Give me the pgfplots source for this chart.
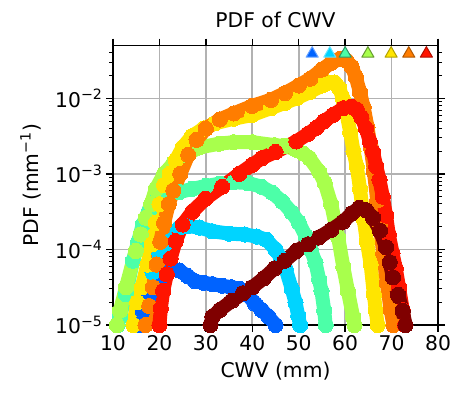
\documentclass[border=0pt]{standalone}
\usepackage{fontspec}
\setmainfont{DejaVu Sans}
\usepackage{pgfplots}
\pgfplotsset{compat=1.18}
\definecolor{c1}{rgb}{0,0.39,1}
\definecolor{c2}{rgb}{0,0.83,1}
\definecolor{c3}{rgb}{0.30,1,0.66}
\definecolor{c4}{rgb}{0.66,1,0.30}
\definecolor{c5}{rgb}{1,0.90,0}
\definecolor{c6}{rgb}{1,0.49,0}
\definecolor{c7}{rgb}{1,0.08,0}
\definecolor{c8}{rgb}{0.5,0,0}
\newcommand{\fs}{\fontsize{20.3}{24}\selectfont}
\begin{document}
\begin{tikzpicture}[font=\fs]
\begin{axis}[
  name=ax,
  scale only axis, width=325pt, height=279.5pt,
  xmin=10, xmax=80, ymode=log, ymin=1e-5, ymax=0.05,
  xtick={10,20,...,80},
  ytick={1e-5,1e-4,1e-3,1e-2},
  yticklabels={10\textsuperscript{−5},10\textsuperscript{−4},10\textsuperscript{−3},10\textsuperscript{−2}},
  minor ytick={2e-5,3e-5,4e-5,5e-5,6e-5,7e-5,8e-5,9e-5,2e-4,3e-4,4e-4,5e-4,6e-4,7e-4,8e-4,9e-4,2e-3,3e-3,4e-3,5e-3,6e-3,7e-3,8e-3,9e-3,2e-2,3e-2,4e-2},
  /pgf/number format/assume math mode=true,
  tick align=outside, major tick length=7pt, minor tick length=4pt,
  tick style={black, line width=1.3pt},
  minor tick style={line width=1pt},
  axis line style={line width=1.6pt},
  xmajorgrids, ymajorgrids,
  major grid style={color=black!30, line width=1.6pt},
  tick label style={font=\fs},
  title={PDF of CWV},
  title style={font=\fs, at={(axis description cs:0.5,1.03)}, anchor=south},
  xlabel={CWV (mm)},
  xlabel style={font=\fs, at={(axis description cs:0.5,-0.1216)}, anchor=north},
  ylabel={PDF (mm\textsuperscript{−1})},
  ylabel style={font=\fs, at={(axis description cs:-0.254,0.5)}, anchor=center},
  every axis plot/.append style={line width=14pt, line cap=round, line join=round, mark=*, mark size=7.6pt, mark options={line width=0pt}},
]
% blue
\addplot[c1] coordinates {
(15.5,1.0e-5)(16.4,1.55e-5)(17.5,2.24e-5)(18.5,2.82e-5)(20,3.98e-5)(21.3,5.01e-5)(22.5,5.50e-5)(24.3,5.25e-5)(26,4.47e-5)(27.7,3.80e-5)(29.5,3.63e-5)(31.4,3.47e-5)(33.5,3.31e-5)(35.5,3.16e-5)(37.2,3.02e-5)(39,2.51e-5)(40.6,1.91e-5)(42,1.58e-5)(43.5,1.29e-5)(45,1.0e-5)};
% cyan
\addplot[c2] coordinates {
(18.5,5.01e-5)(20,8.91e-5)(21,1.12e-4)(22.2,1.29e-4)(24.3,1.95e-4)(26,2.04e-4)(28.6,1.95e-4)(31.4,1.74e-4)(35,1.62e-4)(38.4,1.58e-4)(41,1.48e-4)(43,1.35e-4)(45,1.0e-4)(46.2,7.59e-5)(47.2,5.50e-5)(48.5,3.02e-5)(49.3,2.0e-5)(49.9,1.32e-5)(50.3,1.0e-5)};
% aquamarine
\addplot[c3] coordinates {
(11,1.0e-5)(11.5,1.29e-5)(12.8,2.57e-5)(14.3,7.08e-5)(15.4,1.26e-4)(16.4,2.14e-4)(17.8,3.31e-4)(19.2,4.37e-4)(21,5.01e-4)(24.3,5.75e-4)(27,6.31e-4)(30,6.92e-4)(33,7.41e-4)(36,7.76e-4)(39,7.59e-4)(42,6.76e-4)(44.3,5.62e-4)(46.5,4.27e-4)(48.5,3.09e-4)(50,2.29e-4)(51.5,1.51e-4)(52.6,1.0e-4)(53.6,6.76e-5)(54.4,3.98e-5)(54.9,2.82e-5)(55.5,1.55e-5)(55.8,1.0e-5)};
% green-yellow
\addplot[c4] coordinates {
(10.8,1.0e-5)(11.5,1.55e-5)(12.8,3.16e-5)(14.9,9.55e-5)(16,1.58e-4)(17.1,2.63e-4)(18.2,3.98e-4)(19.2,6.31e-4)(21,1.0e-3)(23,1.38e-3)(25.6,1.78e-3)(28.6,2.24e-3)(32.9,2.51e-3)(36,2.63e-3)(40,2.63e-3)(44.8,2.40e-3)(47,2.34e-3)(49.5,2.09e-3)(51,1.86e-3)(52.3,1.62e-3)(54.4,1.07e-3)(55.6,7.59e-4)(57,3.98e-4)(58.5,1.45e-4)(59.6,5.89e-5)(60.6,2.82e-5)(61.7,1.29e-5)(62,1.0e-5)};
% yellow
\addplot[c5] coordinates {
(14.4,1.0e-5)(15.2,2.0e-5)(16.2,3.16e-5)(17.4,6.31e-5)(18.4,1.17e-4)(19.2,2.24e-4)(20,3.98e-4)(21,7.08e-4)(22.2,1.0e-3)(23.5,1.51e-3)(25,2.24e-3)(27,3.16e-3)(29.5,3.98e-3)(32,4.68e-3)(36,5.37e-3)(40,6.03e-3)(44,7.41e-3)(47,8.71e-3)(49.5,1.0e-2)(52.3,1.20e-2)(55,1.48e-2)(56.5,1.62e-2)(57.7,1.62e-2)(58.7,1.38e-2)(59.5,1.0e-2)(60.3,6.31e-3)(61.1,3.55e-3)(61.8,2.0e-3)(62.5,1.26e-3)(63.2,6.31e-4)(64,2.51e-4)(64.7,1.26e-4)(65.5,6.31e-5)(66.2,2.51e-5)(66.6,1.55e-5)(67,1.0e-5)};
% orange
\addplot[c6] coordinates {
(17,1.0e-5)(17.8,1.78e-5)(18.6,3.16e-5)(19.4,6.31e-5)(20.2,1.26e-4)(21,2.24e-4)(22,3.98e-4)(23,6.03e-4)(24.5,1.0e-3)(26.2,1.78e-3)(28,2.82e-3)(30,3.98e-3)(33,5.25e-3)(36,6.31e-3)(40,7.94e-3)(44,9.55e-3)(47,1.17e-2)(50,1.48e-2)(52.5,1.82e-2)(55,2.40e-2)(57,2.95e-2)(58.8,3.31e-2)(60.3,3.16e-2)(61.4,2.63e-2)(62.3,1.91e-2)(63.2,1.20e-2)(64,7.59e-3)(64.8,4.17e-3)(65.5,2.24e-3)(66.2,1.07e-3)(66.9,4.47e-4)(67.5,2.0e-4)(68.2,8.91e-5)(69,3.55e-5)(69.8,1.58e-5)(70.4,1.0e-5)};
% red
\addplot[c7] coordinates {
(20,1.0e-5)(20.3,1.66e-5)(20.8,2.82e-5)(21.6,4.68e-5)(22.4,7.59e-5)(23.5,1.29e-4)(25,2.14e-4)(27.1,3.16e-4)(29.9,4.68e-4)(33.5,6.76e-4)(37.2,1.0e-3)(40,1.32e-3)(42.1,1.62e-3)(45,1.95e-3)(49.5,2.69e-3)(52,3.39e-3)(53.8,4.07e-3)(55.5,5.01e-3)(57.4,6.03e-3)(59.6,7.41e-3)(61.3,7.76e-3)(62.5,7.08e-3)(63.5,5.62e-3)(64.5,3.98e-3)(65.3,2.69e-3)(66,1.95e-3)(66.7,1.26e-3)(67.4,8.32e-4)(68.1,5.01e-4)(68.8,2.82e-4)(69.4,1.58e-4)(70.2,8.91e-5)(70.9,5.62e-5)(71.6,3.16e-5)(72.4,1.58e-5)(72.9,1.0e-5)};
% dark red
\addplot[c8] coordinates {
(31,1.0e-5)(31.4,1.29e-5)(33,1.58e-5)(35.6,2.09e-5)(38,2.63e-5)(40,3.16e-5)(42.5,4.17e-5)(44.8,5.62e-5)(47,7.08e-5)(49.5,9.55e-5)(52,1.17e-4)(54.4,1.45e-4)(57,1.82e-4)(59.6,2.34e-4)(61.5,3.02e-4)(63,3.55e-4)(64.5,3.31e-4)(66,2.63e-4)(67.5,1.78e-4)(68.8,1.07e-4)(69.6,6.76e-5)(70.3,4.27e-5)(71.4,2.51e-5)(72.4,1.55e-5)(73,1.0e-5)};
% triangles
\addplot[only marks, mark=triangle*, mark size=7pt, mark options={line width=1pt, draw=c1!60!white, fill=c1}] coordinates {(52.9,0.039)};
\addplot[only marks, mark=triangle*, mark size=7pt, mark options={line width=1pt, draw=c2!60!white, fill=c2}] coordinates {(56.7,0.039)};
\addplot[only marks, mark=triangle*, mark size=7pt, mark options={line width=1pt, draw=c3!60!black, fill=c3}] coordinates {(60.0,0.039)};
\addplot[only marks, mark=triangle*, mark size=7pt, mark options={line width=1pt, draw=c4!60!black, fill=c4}] coordinates {(64.9,0.039)};
\addplot[only marks, mark=triangle*, mark size=7pt, mark options={line width=1pt, draw=c5!70!black, fill=c5}] coordinates {(69.9,0.039)};
\addplot[only marks, mark=triangle*, mark size=7pt, mark options={line width=1pt, draw=c6!70!black, fill=c6}] coordinates {(73.7,0.039)};
\addplot[only marks, mark=triangle*, mark size=7pt, mark options={line width=1pt, draw=c7!70!black, fill=c7}] coordinates {(77.5,0.039)};
\end{axis}
\pgfresetboundingbox
\path[use as bounding box] ([xshift=-113pt,yshift=-80pt]ax.south west) rectangle ([xshift=12pt,yshift=45.5pt]ax.north east);
\end{tikzpicture}
\end{document}
